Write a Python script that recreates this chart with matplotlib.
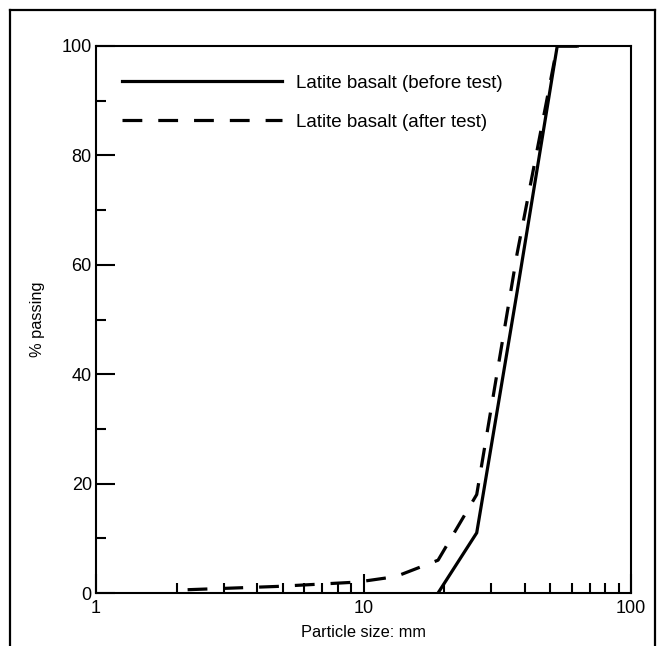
import numpy as np
import matplotlib.pyplot as plt
from matplotlib.lines import Line2D

plt.rcParams['font.family'] = ['Liberation Sans', 'DejaVu Sans']

# sieve sizes (mm) and % passing
size_before = [19, 26.5, 37.5, 53, 63]
pass_before = [0, 11, 55, 100, 100]

size_after = [2.2, 4.75, 9.5, 13.2, 19, 26.5, 37.5, 53, 63]
pass_after = [0.6, 1.2, 2.0, 3.0, 6.0, 18, 62, 100, 100]

xticks = [1, 10, 100]
xticklabels = ['1', '10', '100']
yticks = [0, 20, 40, 60, 80, 100]

fig = plt.figure(figsize=(6.63, 6.46), dpi=100)
ax = fig.add_axes([96/663, 53/646, 535/663, 547/646])

ax.plot(size_before, pass_before, color='black', lw=2.3, solid_joinstyle='miter',
        label='Latite basalt (before test)')
ax.plot(size_after, pass_after, color='black', lw=2.3, linestyle=(0, (6.2, 5.0)),
        label='Latite basalt (after test)')

ax.set_xscale('log')
ax.set_xlim(1, 100)
ax.set_ylim(0, 100)
ax.set_xticks(xticks)
ax.set_xticklabels(xticklabels)
ax.set_yticks(yticks)
ax.set_yticks([10, 30, 50, 70, 90], minor=True)
ax.tick_params(which='major', direction='in', length=13.5, width=1.5, labelsize=13, pad=3)
ax.tick_params(which='minor', direction='in', length=7, width=1.5)
ax.tick_params(axis='x', which='major', pad=5)
for s in ax.spines.values():
    s.set_linewidth(1.5)

ax.set_xlabel('Particle size: mm', fontsize=11.8, labelpad=6)
ax.set_ylabel('% passing', fontsize=11.8, labelpad=12)

ax.legend(loc='upper left', bbox_to_anchor=(0.0175, 0.978), frameon=False,
          fontsize=13.5, handlelength=8.5, handletextpad=0.78, labelspacing=1.15)

# outer frame, open at the bottom
fx0, fx1, fy1 = 10/663, 655/663, 1 - 10/646
for xs, ys in [([fx0, fx0], [0, fy1]), ([fx0, fx1], [fy1, fy1]), ([fx1, fx1], [fy1, 0])]:
    fig.add_artist(Line2D(xs, ys, color='black', lw=1.6, transform=fig.transFigure))

fig.savefig('out.png', dpi=100)
